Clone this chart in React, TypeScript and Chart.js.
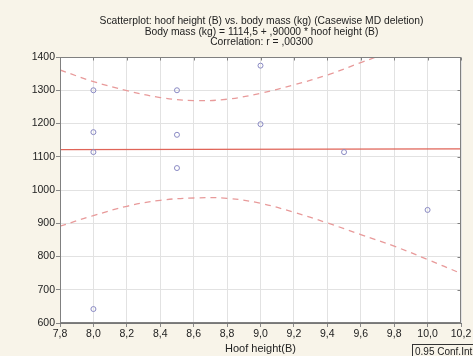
import React, { useEffect, useRef } from "react";
import { Chart, registerables } from "chart.js";

Chart.register(...registerables);

const titleLines = [
  "Scatterplot: hoof height (B) vs. body mass (kg) (Casewise MD deletion)",
  "Body mass (kg) = 1114,5 + ,90000 * hoof height (B)",
  "Correlation: r = ,00300",
];
const xAxisTitle = "Hoof height(B)";
const legendText = "0.95 Conf.Int.";

const hoofHeights = [8.0, 8.0, 8.0, 8.0, 8.5, 8.5, 8.5, 9.0, 9.0, 9.5, 10.0];
const bodyMass = [1300, 1174, 1114, 642, 1300, 1166, 1066, 1374, 1198, 1114, 940];

const regX = [7.8, 10.2];
const regY = [1121.5, 1123.7];

const bandX = [7.8, 8.0, 8.2, 8.4, 8.6, 8.8, 9.0, 9.2, 9.4, 9.6, 9.8, 10.0, 10.2];
const upperBand = [1361, 1326, 1299, 1278, 1269, 1273, 1291, 1316, 1346, 1383, 1420, 1458, 1497];
const lowerBand = [891, 923, 951, 969, 976, 975, 960, 933, 901, 866, 831, 791, 749];

const FONT = '"Liberation Sans", Arial, sans-serif';

export default function App() {
  const ref = useRef<HTMLCanvasElement | null>(null);

  useEffect(() => {
    document.body.style.margin = "0";
    const canvas = ref.current;
    if (!canvas) return;

    const bgPlugin = {
      id: "bg",
      beforeDraw(chart: any) {
        const { ctx, chartArea } = chart;
        ctx.save();
        ctx.fillStyle = "#f8f4e9";
        ctx.fillRect(0, 0, chart.width, chart.height);
        ctx.fillStyle = "#ffffff";
        ctx.fillRect(chartArea.left, chartArea.top, chartArea.right - chartArea.left, chartArea.bottom - chartArea.top);
        ctx.restore();
      },
      afterDraw(chart: any) {
        const { ctx, chartArea, scales } = chart;
        ctx.save();
        // frame and inner ticks on top/right
        ctx.strokeStyle = "#808080";
        ctx.lineWidth = 1;
        const l = Math.round(chartArea.left) + 0.5;
        const r = Math.round(chartArea.right) - 0.5;
        const t = Math.round(chartArea.top) + 0.5;
        const b = Math.round(chartArea.bottom) - 0.5;
        ctx.strokeRect(l, t, r - l, b - t);
        ctx.beginPath();
        scales.x.ticks.forEach((tk: any) => {
          const px = Math.round(scales.x.getPixelForValue(tk.value)) + 0.5;
          ctx.moveTo(px, t);
          ctx.lineTo(px, t + 3);
        });
        scales.y.ticks.forEach((tk: any) => {
          const py = Math.round(scales.y.getPixelForValue(tk.value)) + 0.5;
          ctx.moveTo(r, py);
          ctx.lineTo(r - 3, py);
        });
        ctx.stroke();

        ctx.fillStyle = "#222";
        ctx.font = `10.3px ${FONT}`;
        ctx.textAlign = "center";
        ctx.textBaseline = "middle";
        const cx = (chartArea.left + chartArea.right) / 2 + 1;
        titleLines.forEach((tx, i) => ctx.fillText(tx, cx, 21 + i * 10.8));
        // legend box
        ctx.strokeStyle = "#333";
        ctx.strokeRect(412.5, 344.5, 80, 16);
        ctx.textAlign = "left";
        ctx.font = `10px ${FONT}`;
        ctx.fillText(legendText, 415, 352);
        ctx.restore();
      },
    };

    const chart = new Chart(canvas, {
      type: "scatter",
      data: {
        datasets: [
          {
            label: "points",
            data: hoofHeights.map((x, i) => ({ x, y: bodyMass[i] })),
            pointStyle: "circle",
            pointRadius: 2.5,
            pointBorderWidth: 1,
            pointBorderColor: "#8a8ac4",
            pointBackgroundColor: "rgba(0,0,0,0)",
            showLine: false,
          },
          {
            label: "reg",
            data: regX.map((x, i) => ({ x, y: regY[i] })),
            showLine: true,
            borderColor: "#e06458",
            borderWidth: 1.2,
            pointRadius: 0,
          },
          {
            label: "upper",
            data: bandX.map((x, i) => ({ x, y: upperBand[i] })),
            showLine: true,
            borderColor: "#e89a9a",
            borderWidth: 1.3,
            borderDash: [6, 5],
            pointRadius: 0,
            tension: 0.4,
          },
          {
            label: "lower",
            data: bandX.map((x, i) => ({ x, y: lowerBand[i] })),
            showLine: true,
            borderColor: "#e89a9a",
            borderWidth: 1.3,
            borderDash: [6, 5],
            pointRadius: 0,
            tension: 0.4,
          },
        ],
      },
      options: {
        responsive: false,
        animation: false,
        layout: { padding: { top: 57, right: 12, left: 0, bottom: 0 } },
        plugins: {
          legend: { display: false },
          title: { display: false },
          tooltip: { enabled: false },
        },
        scales: {
          x: {
            type: "linear",
            min: 7.8,
            max: 10.2,
            afterFit(scale: any) {
              scale.height = 33;
            },
            ticks: {
              stepSize: 0.2,
              color: "#222",
              font: { family: FONT, size: 10.5 },
              padding: 1,
              callback: (v: any) => Number(v).toFixed(1).replace(".", ","),
            },
            grid: { color: "#e2e2e2", tickLength: 4, tickColor: "#888" },
            border: { color: "#777", width: 1 },
            title: {
              display: true,
              text: xAxisTitle,
              color: "#222",
              font: { family: FONT, size: 11 },
              padding: { top: 0, bottom: 0 },
            },
          },
          y: {
            min: 600,
            max: 1400,
            afterFit(scale: any) {
              scale.width = 60;
            },
            ticks: {
              stepSize: 100,
              color: "#222",
              font: { family: FONT, size: 10.5 },
              padding: 1,
              callback: (v: any) => String(Math.round(Number(v))),
            },
            grid: { color: "#e2e2e2", tickLength: 4, tickColor: "#888" },
            border: { color: "#777", width: 1 },
          },
        },
      },
      plugins: [bgPlugin],
    } as any);

    return () => chart.destroy();
  }, []);

  return (
    <div style={{ width: 473, height: 356 }}>
      <canvas ref={ref} width={473} height={356} style={{ display: "block" }} />
    </div>
  );
}
